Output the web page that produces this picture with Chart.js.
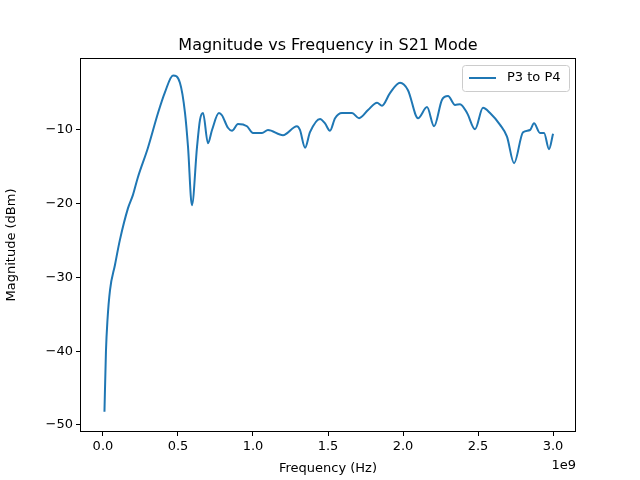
<!DOCTYPE html>
<html>
<head>
<meta charset="utf-8">
<script src="https://cdn.jsdelivr.net/npm/chart.js@4"></script>
<style>
  body { margin: 0; background: white; }
  #wrap { width: 640px; height: 480px; }
</style>
</head>
<body>
<div id="wrap"><canvas id="magChart" width="640" height="480"></canvas></div>
<script>
// frequency in units of 1e9 Hz
const freq = [0.01, 0.02, 0.03, 0.047, 0.08, 0.113, 0.167, 0.2, 0.233, 0.3, 0.367, 0.413, 0.467, 0.513, 0.547, 0.567, 0.593, 0.627, 0.647, 0.667, 0.7, 0.727, 0.773, 0.793, 0.833, 0.86, 0.9, 0.96, 1.0, 1.06, 1.1, 1.2, 1.293, 1.313, 1.347, 1.38, 1.447, 1.48, 1.513, 1.547, 1.593, 1.66, 1.707, 1.767, 1.827, 1.86, 1.913, 1.98, 2.033, 2.1, 2.16, 2.207, 2.26, 2.3, 2.347, 2.38, 2.427, 2.48, 2.533, 2.58, 2.647, 2.693, 2.74, 2.8, 2.847, 2.873, 2.913, 2.94, 2.973, 3.0];
const magnitude = [-48.2, -40, -35.8, -31.7, -28.3, -24.9, -20.6, -18.8, -16.4, -12.4, -7.7, -4.9, -2.6, -3.6, -7.7, -12.3, -20.2, -12.3, -8.6, -7.7, -11.8, -10, -7.7, -8, -9.7, -10.1, -9.2, -9.5, -10.4, -10.4, -10, -10.7, -9.5, -10, -12.4, -10.3, -8.5, -9.1, -10.1, -8.4, -7.7, -7.7, -8.4, -7.3, -6.3, -6.7, -5, -3.6, -4.6, -8.4, -6.9, -9.5, -5.9, -5.4, -6.6, -6.5, -7.7, -9.9, -7, -7.7, -9.3, -10.9, -14.5, -10.3, -10, -9.1, -10.4, -10.4, -12.6, -10.5];
const seriesName = 'P3 to P4';
const xTicks = [0, 0.5, 1.0, 1.5, 2.0, 2.5, 3.0];
const yTicks = [-50, -40, -30, -20, -10];

const BLUE = '#1f77b4';
const FONT = '"DejaVu Sans", sans-serif';

const decorations = {
    id: 'decorations',
    afterDraw(chart) {
        const c = chart.ctx, a = chart.chartArea;
        c.save();
        c.strokeStyle = '#000';
        c.lineWidth = 1;
        c.strokeRect(a.left + 0.5, a.top + 0.5, a.right - a.left - 1, a.bottom - a.top - 1);
        c.fillStyle = '#000';
        c.font = '16px ' + FONT;
        c.textAlign = 'center';
        c.textBaseline = 'alphabetic';
        c.fillText('Magnitude vs Frequency in S21 Mode', (a.left + a.right) / 2, 50);
        c.font = '13px ' + FONT;
        c.textAlign = 'right';
        c.fillText('1e9', a.right, 469);
        // legend
        c.strokeStyle = '#ccc';
        c.fillStyle = 'rgba(255,255,255,0.8)';
        c.beginPath();
        c.roundRect(462.5, 65.5, 107, 26, 3);
        c.fill();
        c.stroke();
        c.strokeStyle = BLUE;
        c.lineWidth = 2;
        c.beginPath();
        c.moveTo(469, 78);
        c.lineTo(496, 78);
        c.stroke();
        c.fillStyle = '#000';
        c.textAlign = 'left';
        c.textBaseline = 'middle';
        c.fillText(seriesName, 507, 78);
        c.restore();
    }
};

new Chart(document.getElementById('magChart').getContext('2d'), {
    type: 'line',
    data: {
        datasets: [{
            label: seriesName,
            data: freq.map((f, i) => ({ x: f, y: magnitude[i] })),
            borderColor: BLUE,
            borderWidth: 2,
            pointRadius: 0,
            tension: 0.4,
            cubicInterpolationMode: 'monotone',
            fill: false,
        }]
    },
    options: {
        responsive: false,
        animation: false,
        layout: { padding: { top: 58, right: 64, left: 0, bottom: 0 } },
        plugins: { legend: { display: false }, title: { display: false }, tooltip: { enabled: false } },
        scales: {
            x: {
                type: 'linear',
                min: -0.153, max: 3.153,
                afterBuildTicks: (s) => { s.ticks = xTicks.map(v => ({ value: v })); },
                afterFit: (s) => { s.height = 48; },
                grid: { display: true, drawOnChartArea: false, tickLength: 4, color: '#000' },
                border: { display: false },
                ticks: { color: '#000', font: { family: FONT, size: 13 }, padding: 3, maxRotation: 0,
                    callback: (v) => v.toFixed(1) },
                title: { display: true, text: 'Frequency (Hz)', color: '#000', font: { family: FONT, size: 13 }, padding: { top: 2 } }
            },
            y: {
                min: -50.95, max: -0.24,
                afterBuildTicks: (s) => { s.ticks = yTicks.map(v => ({ value: v })); },
                afterFit: (s) => { s.width = 80; },
                grid: { display: true, drawOnChartArea: false, tickLength: 4, color: '#000' },
                border: { display: false },
                ticks: { color: '#000', font: { family: FONT, size: 13 }, padding: 3,
                    callback: (v) => v < 0 ? '\u2212' + Math.abs(v) : String(v) },
                title: { display: true, text: 'Magnitude (dBm)', color: '#000', font: { family: FONT, size: 13 }, padding: { bottom: 4 } }
            }
        }
    },
    plugins: [decorations]
});
</script>
</body>
</html>
